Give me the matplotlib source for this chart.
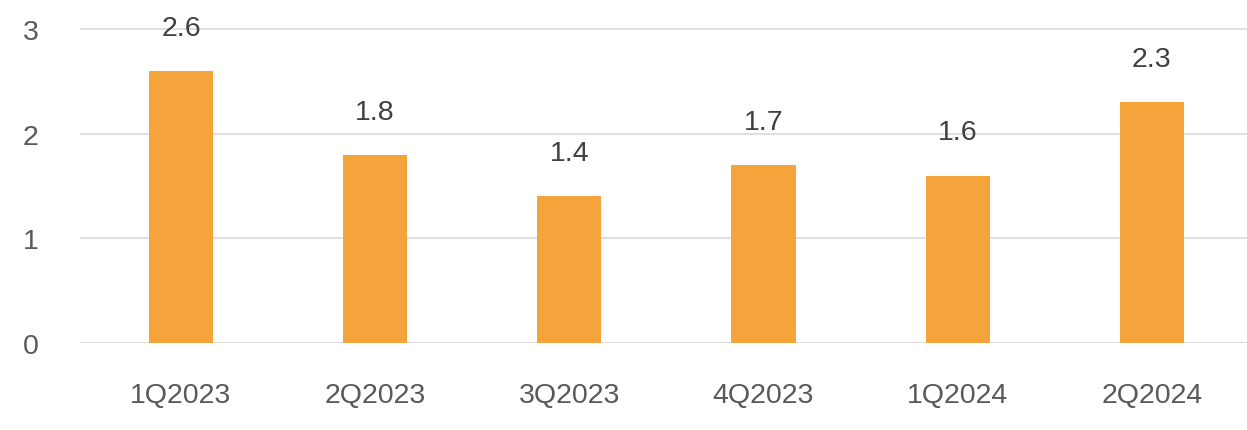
import matplotlib
matplotlib.use("Agg")
import matplotlib.pyplot as plt

quarters = ["1Q2023", "2Q2023", "3Q2023", "4Q2023", "1Q2024", "2Q2024"]
values = [2.6, 1.8, 1.4, 1.7, 1.6, 2.3]
y_ticks = [0, 1, 2, 3]

plt.rcParams['font.family'] = ['Liberation Sans', 'DejaVu Sans']

fig = plt.figure(figsize=(12.47, 4.31), dpi=100)
ax = fig.add_axes([80 / 1247, 87 / 431, 1 - 80 / 1247, 344 / 431])

x = range(len(quarters))
bars = ax.bar(x, values, width=0.33, color="#F4A43A", zorder=3)

for xi, v in zip(x, values):
    ax.annotate(f"{v:.1f}", (xi, v), xytext=(0, 31), textcoords="offset points",
                ha="center", va="center", fontsize=20.5, color="#404040")

ax.set_xlim(-0.52, 5.49)
ax.set_ylim(0, 3.287)
ax.set_yticks(y_ticks)
ax.set_xticks(list(x))
ax.set_xticklabels(quarters)
ax.yaxis.grid(True, color="#d9d9d9", linewidth=1.2, zorder=0)
for s in ax.spines.values():
    s.set_visible(False)
ax.tick_params(axis="both", length=0, labelsize=20.5, labelcolor="#595959")
ax.tick_params(axis="y", pad=30)
ax.tick_params(axis="x", pad=28)

fig.savefig("out.png", dpi=100)
